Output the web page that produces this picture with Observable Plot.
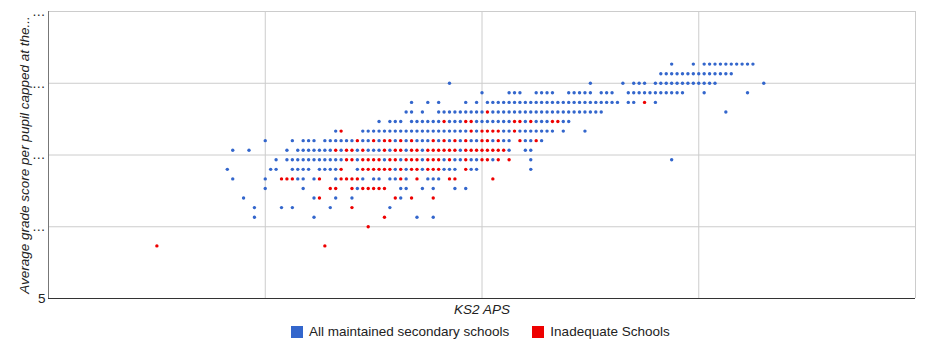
<!DOCTYPE html>
<html><head><meta charset="utf-8">
<script src="https://cdn.jsdelivr.net/npm/d3@7"></script>
<script src="https://cdn.jsdelivr.net/npm/@observablehq/plot@0.6"></script>
<style>
body{margin:0;background:#fff;font-family:Arial,"Liberation Sans",sans-serif;}
#wrap{position:relative;width:940px;height:361px;overflow:hidden;}
.legend{position:absolute;top:325px;left:291px;display:flex;align-items:center;font-size:13.5px;color:#222;white-space:nowrap;line-height:13px;}
.sw{width:12px;height:12px;display:inline-block;margin-right:6px;}
.item{display:flex;align-items:center;margin-right:23px;}
</style></head><body><div id="wrap"></div>
<script>
// y tick values and labels (labels truncated in the original)
const yTicks = [5, 20, 35, 50, 65];
const yTickLabels = ["5", "\u2026", "\u2026", "\u2026", "\u2026"];
const xGridTicks = [24, 28, 32];
const xDomain = [20, 36];
const seriesNames = ["All maintained secondary schools", "Inadequate Schools"];
const seriesColors = ["#3366cc", "#ee0000"];
const xTitle = "KS2 APS";
const yTitle = "Average grade score per pupil capped at the...";

// All maintained secondary schools: [y, [x values]]
const allSchoolsRows = [
  [54, [31.5, 31.9, 32.1, 32.2, 32.3, 32.4, 32.5, 32.6, 32.7, 32.8, 32.9, 33.0]],
  [52, [31.3, 31.4, 31.5, 31.6, 31.7, 31.8, 31.9, 32.0, 32.1, 32.2, 32.3, 32.4, 32.5, 32.6]],
  [50, [27.4, 30.0, 30.6, 30.8, 30.9, 31.0, 31.2, 31.3, 31.4, 31.5, 31.6, 31.7, 31.8, 31.9, 32.0, 32.1, 32.2, 32.3, 33.2]],
  [48, [28.0, 28.5, 28.6, 28.7, 29.0, 29.1, 29.2, 29.3, 29.6, 29.7, 29.8, 29.9, 30.0, 30.2, 30.3, 30.4, 30.7, 30.8, 30.9, 31.0, 31.1, 31.2, 31.3, 31.4, 31.5, 31.6, 31.7, 32.1, 32.9]],
  [46, [26.7, 27.0, 27.2, 27.7, 27.9, 28.1, 28.2, 28.3, 28.4, 28.5, 28.6, 28.7, 28.8, 28.9, 29.0, 29.1, 29.2, 29.3, 29.4, 29.5, 29.6, 29.7, 29.8, 29.9, 30.0, 30.1, 30.2, 30.3, 30.4, 30.5, 30.7, 30.8, 31.2]],
  [44, [26.6, 26.7, 26.9, 27.2, 27.3, 27.4, 27.5, 27.6, 27.7, 27.8, 27.9, 28.0, 28.2, 28.3, 28.4, 28.5, 28.6, 28.7, 28.8, 28.9, 29.0, 29.1, 29.2, 29.3, 29.4, 29.5, 29.6, 29.7, 29.8, 29.9, 30.0, 30.1, 30.2, 32.5]],
  [42, [26.1, 26.3, 26.4, 26.5, 26.7, 26.8, 26.9, 27.0, 27.1, 27.2, 27.4, 27.5, 27.6, 27.9, 28.0, 28.1, 28.2, 28.3, 28.4, 28.5, 28.8, 29.0, 29.1, 29.2, 29.5, 29.6]],
  [40, [25.3, 25.8, 25.9, 26.0, 26.1, 26.2, 26.3, 26.4, 26.5, 26.6, 26.7, 26.8, 26.9, 27.0, 27.1, 27.2, 27.3, 27.4, 27.5, 27.6, 27.7, 27.9, 28.4, 28.5, 28.7, 28.8, 28.9, 29.0, 29.1, 29.2, 29.3, 29.5, 29.9]],
  [38, [24.0, 24.5, 24.7, 24.8, 24.9, 25.1, 25.2, 25.3, 25.4, 25.5, 25.6, 25.8, 25.9, 26.1, 26.4, 26.6, 26.8, 26.9, 27.0, 27.2, 27.4, 27.6, 27.8, 27.9, 28.2, 28.4, 28.5, 28.8, 28.9, 29.1]],
  [36, [23.4, 23.7, 24.4, 24.6, 24.7, 24.8, 24.9, 25.0, 25.1, 25.2, 25.4, 25.7, 25.9, 26.0, 26.1, 26.3, 26.6, 26.9, 27.6, 28.5, 28.8, 28.9]],
  [34, [24.2, 24.4, 24.5, 24.6, 24.7, 24.8, 24.9, 25.0, 25.1, 25.2, 25.3, 25.4, 25.7, 26.2, 26.5, 26.9, 27.3, 27.5, 27.6, 27.8, 27.9, 28.2, 28.9, 31.5]],
  [32, [23.3, 24.1, 24.2, 24.5, 24.6, 24.7, 24.8, 25.0, 25.1, 25.2, 25.3, 25.7, 26.4, 26.6, 26.9, 27.3, 27.4, 27.5, 27.8, 27.9, 28.9]],
  [30, [23.4, 24.0, 24.6, 24.7, 24.9, 25.3, 25.8, 26.0, 26.1, 26.3, 26.4, 26.6, 27.0, 27.1, 27.2]],
  [28, [24.0, 24.7, 25.7, 26.5, 26.6, 26.9, 27.1, 27.5, 27.7]],
  [26, [23.6, 24.9, 25.3, 25.6, 26.5]],
  [24, [23.8, 24.3, 24.5, 25.2, 26.3]],
  [22, [23.8, 24.9, 26.8, 27.1]]
];

// Inadequate schools: [y, [x values]]
const inadequateRows = [
  [46, [31.0]],
  [44, [28.1]],
  [42, [27.3, 27.7, 27.8, 28.6, 28.7, 28.9, 29.3, 29.4]],
  [40, [25.4, 27.8, 28.0, 28.1, 28.2, 28.3, 28.6]],
  [38, [25.7, 26.0, 26.2, 26.3, 26.5, 26.7, 27.1, 27.3, 27.5, 27.7, 28.0, 28.1, 28.3, 28.7, 29.0]],
  [36, [25.3, 25.5, 25.6, 25.8, 26.2, 26.4, 26.5, 26.7, 26.8, 27.0, 27.1, 27.2, 27.3, 27.4, 27.5, 27.7, 27.8, 27.9, 28.0, 28.1, 28.2, 28.3, 28.4]],
  [34, [25.5, 25.6, 25.8, 25.9, 26.0, 26.1, 26.3, 26.4, 26.6, 26.7, 26.8, 27.0, 27.1, 27.2, 27.4, 27.7, 28.0, 28.1, 28.3, 28.5]],
  [32, [25.4, 25.8, 25.9, 26.0, 26.1, 26.2, 26.3, 26.5, 26.7, 26.8, 27.0, 27.1, 27.2, 27.7]],
  [30, [24.3, 24.4, 24.5, 25.0, 25.4, 25.5, 25.6, 25.7, 26.5, 26.8, 27.4, 27.5, 28.2]],
  [28, [25.2, 25.3, 25.6, 25.8, 25.9, 26.0, 26.1, 26.2]],
  [26, [25.0, 26.4, 26.7, 27.1]],
  [24, [25.6]],
  [22, [26.2]],
  [20, [25.9]],
  [16, [22.0, 25.1]]
];

const flatten = rows => rows.flatMap(([y, xs]) => xs.map(x => ({x, y})));
const allPts = flatten(allSchoolsRows);
const badPts = flatten(inadequateRows);
const labelMap = new Map(yTicks.map((v, i) => [v, yTickLabels[i]]));

const chart = Plot.plot({
  width: 940, height: 322,
  marginLeft: 48, marginRight: 25, marginTop: 11, marginBottom: 24,
  style: {fontFamily: "Arial, 'Liberation Sans', sans-serif", fontSize: "13px", background: "#fff", color: "#222"},
  x: {domain: xDomain, axis: null},
  y: {domain: [yTicks[0], yTicks[yTicks.length - 1]], axis: null},
  marks: [
    Plot.ruleX(xGridTicks, {stroke: "#cccccc"}),
    Plot.ruleY(yTicks.slice(1), {stroke: "#cccccc"}),
    Plot.ruleX([xDomain[1]], {stroke: "#cccccc"}),
    Plot.ruleX([xDomain[0]], {stroke: "#777"}),
    Plot.ruleY([yTicks[0]], {stroke: "#333"}),
    Plot.axisY(yTicks, {tickSize: 0, tickPadding: 3, tickFormat: d => labelMap.get(d), label: null, fill: "#222", fontSize: 13.5}),
    Plot.dot(allPts, {x: "x", y: "y", r: 1.7, fill: seriesColors[0]}),
    Plot.dot(badPts, {x: "x", y: "y", r: 1.7, fill: seriesColors[1]}),
    Plot.text([yTitle], {frameAnchor: "left", textAnchor: "middle", rotate: -90, dx: -24, fontStyle: "italic", fill: "#222", fontSize: 13.5}),
    Plot.text([xTitle], {frameAnchor: "bottom", textAnchor: "middle", dy: 15, fontStyle: "italic", fill: "#222", fontSize: 13.5})
  ]
});
const wrap = document.getElementById("wrap");
wrap.appendChild(chart);
const legend = document.createElement("div");
legend.className = "legend";
seriesNames.forEach((name, i) => {
  const item = document.createElement("span");
  item.className = "item";
  const sw = document.createElement("span");
  sw.className = "sw";
  sw.style.background = seriesColors[i];
  const t = document.createElement("span");
  t.textContent = name;
  item.appendChild(sw); item.appendChild(t);
  legend.appendChild(item);
});
wrap.appendChild(legend);
</script></body></html>
